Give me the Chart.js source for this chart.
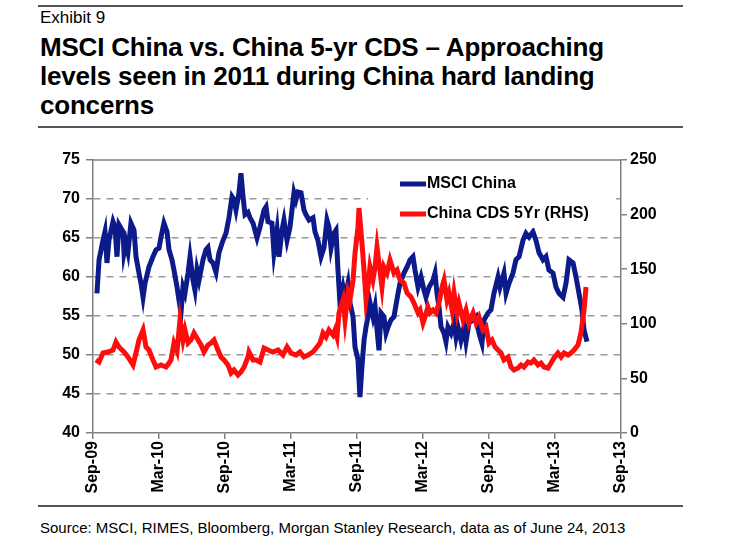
<!DOCTYPE html>
<html lang="en">
<head>
    <meta charset="UTF-8">
    <title>MSCI China vs. China 5-yr CDS</title>
    <style>
        body { margin: 0; background: #fff; }
        #page { position: relative; width: 746px; height: 552px; overflow: hidden; font-family: "Liberation Sans", Arial, sans-serif; color: #000; }
        .rule { position: absolute; left: 38px; width: 645px; height: 2px; background: #555; }
        #exhibit { position: absolute; left: 40px; top: 8px; font-size: 17px; line-height: 20px; }
        #title { position: absolute; left: 40px; top: 33px; font-size: 26px; line-height: 29px; font-weight: bold; letter-spacing: -0.2px; }
        #chartBox { position: absolute; left: 0; top: 130px; width: 746px; height: 370px; }
        #source { position: absolute; left: 40px; top: 519px; font-size: 15px; line-height: 18px; }
    </style>
</head>
<body>
<div id="page">
    <div class="rule" style="top:5px"></div>
    <div id="exhibit">Exhibit 9</div>
    <div id="title">MSCI China vs. China 5-yr CDS – Approaching<br>levels seen in 2011 during China hard landing<br>concerns</div>
    <div class="rule" style="top:126px"></div>
    <div id="chartBox"><canvas id="chart" width="746" height="370"></canvas></div>
    <div class="rule" style="top:505px"></div>
    <div id="source">Source: MSCI, RIMES, Bloomberg, Morgan Stanley Research, data as of June 24, 2013</div>
</div>

<script src="https://cdn.jsdelivr.net/npm/chart.js"></script>
<script>
    // x = months since Sep-09, y = index level / CDS spread (bp)
    const xTickLabels = ['Sep-09', 'Mar-10', 'Sep-10', 'Mar-11', 'Sep-11', 'Mar-12', 'Sep-12', 'Mar-13', 'Sep-13'];
    const seriesNames = ['MSCI China', 'China CDS 5Yr (RHS)'];

    const msciChina = [
        [0.36,57.9],[0.55,62.2],[0.91,64.7],[1.09,65.8],[1.27,61.8],[1.45,64.7],[1.82,67.1],[2.00,66.4],
        [2.18,62.6],[2.36,66.7],[2.73,65.8],[2.82,63.1],[3.00,64.4],[3.18,63.2],[3.45,66.9],[3.73,66.0],
        [3.91,62.6],[4.18,60.5],[4.36,59.2],[4.55,57.4],[4.73,59.2],[5.09,61.3],[5.45,62.6],[5.73,63.5],
        [6.00,63.7],[6.18,65.1],[6.45,66.9],[6.73,65.8],[6.91,63.5],[7.18,62.2],[7.36,60.9],[7.64,58.7],
        [7.82,57.0],[8.00,55.4],[8.18,58.7],[8.36,57.9],[8.64,60.5],[8.82,62.6],[9.09,59.6],[9.27,58.3],
        [9.45,60.9],[9.64,59.6],[10.00,62.2],[10.27,63.5],[10.45,63.8],[10.64,62.2],[10.91,61.8],[11.18,60.6],
        [11.45,63.1],[11.82,64.7],[12.09,65.6],[12.36,67.6],[12.64,70.3],[12.82,69.9],[13.00,68.6],[13.27,70.8],
        [13.45,73.3],[13.64,70.3],[13.82,68.0],[14.09,68.3],[14.27,67.6],[14.55,66.9],[14.91,65.0],[15.18,66.4],
        [15.55,68.6],[15.73,69.0],[15.91,67.1],[16.27,66.9],[16.45,63.1],[16.73,66.0],[16.91,62.6],[17.18,66.0],
        [17.36,67.3],[17.64,64.7],[17.91,66.4],[18.27,70.8],[18.45,69.9],[18.64,70.9],[18.91,70.8],[19.18,68.6],
        [19.36,68.0],[19.64,67.3],[20.00,67.6],[20.18,65.8],[20.45,64.7],[20.73,62.6],[21.00,63.8],[21.27,67.3],
        [21.45,66.4],[21.64,63.7],[21.91,65.6],[22.09,66.0],[22.27,60.9],[22.45,56.7],[22.73,58.7],[22.91,57.4],
        [23.18,59.2],[23.36,56.7],[23.64,54.9],[23.82,51.0],[24.09,49.4],[24.27,44.6],[24.45,48.5],[24.64,51.9],
        [24.82,53.6],[25.00,54.9],[25.18,56.7],[25.45,54.9],[25.64,56.2],[25.91,51.9],[26.00,50.6],[26.18,55.4],
        [26.45,54.9],[26.64,52.8],[26.82,53.6],[27.09,54.5],[27.36,54.9],[27.73,57.9],[27.91,59.2],[28.27,60.5],
        [28.55,61.3],[28.82,62.2],[29.09,62.6],[29.27,60.9],[29.55,58.7],[29.82,60.0],[30.09,58.3],[30.27,57.4],
        [30.55,58.7],[30.91,59.6],[31.09,60.5],[31.27,57.9],[31.45,56.2],[31.64,53.6],[31.91,52.8],[32.09,51.7],
        [32.27,53.6],[32.55,52.8],[32.82,54.1],[33.00,52.3],[33.18,53.6],[33.45,51.9],[33.73,53.6],[33.91,51.7],
        [34.18,54.1],[34.55,54.5],[34.82,54.9],[35.09,52.8],[35.36,51.5],[35.55,54.5],[35.91,55.4],[36.18,55.8],
        [36.45,57.9],[36.82,60.0],[37.00,58.7],[37.36,60.5],[37.55,57.9],[37.82,59.2],[38.18,60.5],[38.45,62.2],
        [38.73,62.6],[39.09,64.7],[39.36,65.6],[39.64,65.1],[40.00,65.8],[40.27,64.7],[40.55,63.1],[40.91,62.2],
        [41.18,62.6],[41.45,60.9],[41.82,60.5],[42.09,58.7],[42.36,57.9],[42.73,57.4],[43.00,59.2],[43.27,62.2],
        [43.64,61.8],[43.91,60.0],[44.18,57.9],[44.45,55.8],[44.64,53.2],[44.91,51.7]
    ];

    const chinaCds = [
        [0.27,66.9],[0.55,65.0],[0.91,73.3],[1.36,74.2],[1.82,76.0],[2.09,83.3],[2.36,78.8],[2.82,74.2],
        [3.18,69.6],[3.64,62.3],[3.91,73.3],[4.18,85.2],[4.55,94.3],[4.82,78.8],[5.09,76.0],[5.45,66.9],
        [5.73,60.4],[6.18,62.3],[6.64,60.4],[6.91,64.1],[7.09,66.9],[7.36,82.4],[7.64,75.0],[7.91,103.5],
        [8.18,85.2],[8.36,94.3],[8.64,82.4],[8.91,85.2],[9.18,91.6],[9.55,85.2],[9.82,80.6],[10.09,74.2],
        [10.45,80.6],[10.73,82.4],[11.00,85.2],[11.36,76.0],[11.64,69.6],[11.91,66.9],[12.27,62.3],[12.55,54.9],
        [12.82,57.7],[13.18,53.1],[13.45,55.9],[13.73,60.4],[14.09,69.6],[14.18,74.2],[14.55,66.9],[14.82,66.9],
        [15.18,65.0],[15.55,77.8],[15.91,76.0],[16.36,74.2],[16.82,76.0],[17.27,71.4],[17.64,78.8],[18.00,73.3],
        [18.45,71.4],[18.82,74.2],[19.18,69.6],[19.55,71.4],[20.00,74.2],[20.36,78.8],[20.64,82.4],[20.91,91.6],
        [21.18,87.9],[21.45,94.3],[21.82,89.7],[22.00,94.3],[22.18,87.9],[22.36,109.9],[22.73,121.8],[22.91,103.5],
        [23.18,128.2],[23.36,121.8],[23.64,140.1],[23.82,164.8],[24.09,188.7],[24.18,206.0],[24.45,174.0],[24.64,149.3],
        [24.82,121.8],[25.00,133.7],[25.18,152.0],[25.45,140.1],[25.64,152.0],[25.82,170.3],[26.00,155.7],[26.27,133.7],
        [26.45,152.0],[26.73,146.5],[27.00,158.4],[27.36,146.5],[27.64,149.3],[27.91,140.1],[28.27,137.4],[28.55,128.2],
        [28.91,124.5],[29.18,119.0],[29.55,109.9],[29.73,112.6],[30.00,100.7],[30.18,106.2],[30.45,115.4],[30.64,109.9],
        [30.91,112.6],[31.18,109.9],[31.45,119.0],[31.73,133.7],[31.91,140.1],[32.18,121.8],[32.36,128.2],[32.64,112.6],
        [32.82,128.2],[33.09,109.9],[33.27,119.0],[33.64,103.5],[33.91,112.6],[34.18,100.7],[34.55,109.9],[34.82,100.7],
        [35.09,106.2],[35.45,94.3],[35.73,97.1],[36.00,82.4],[36.27,85.2],[36.55,78.8],[36.82,76.0],[37.09,73.3],
        [37.36,66.9],[37.73,69.6],[38.00,60.4],[38.27,57.7],[38.64,59.5],[38.91,62.3],[39.18,60.4],[39.55,65.0],
        [39.82,64.1],[40.09,66.9],[40.45,62.3],[40.73,64.1],[41.00,60.4],[41.36,59.5],[41.64,64.1],[41.91,68.7],
        [42.27,73.3],[42.55,69.6],[42.82,73.3],[43.18,71.4],[43.45,73.3],[43.73,76.0],[44.09,80.6],[44.36,91.6],
        [44.64,112.6],[44.82,133.7]
    ];

    const tickFont = { family: '"Liberation Sans", Arial, sans-serif', size: 16, weight: 'bold' };
    const axisGray = '#808080';

    // draws the top border of the plot and the legend inside the plot
    const framePlugin = {
        id: 'frame',
        afterDraw(chart) {
            const ctx = chart.ctx;
            const a = chart.chartArea;
            ctx.save();
            ctx.strokeStyle = axisGray;
            ctx.lineWidth = 1.5;
            ctx.beginPath();
            ctx.moveTo(a.left, a.top);
            ctx.lineTo(a.right, a.top);
            ctx.stroke();

            // legend box
            const bx = a.left + 275;
            ctx.fillStyle = '#fff';
            ctx.fillRect(bx, a.top + 5, a.right - bx - 5, 63);
            ctx.font = 'bold 16px "Liberation Sans", Arial, sans-serif';
            ctx.textBaseline = 'middle';
            chart.data.datasets.forEach((ds, i) => {
                const y = a.top + 24 + i * 30;
                ctx.strokeStyle = ds.borderColor;
                ctx.lineWidth = 5;
                ctx.beginPath();
                ctx.moveTo(a.left + 307, y);
                ctx.lineTo(a.left + 333, y);
                ctx.stroke();
                ctx.fillStyle = '#000';
                ctx.fillText(ds.label, a.left + 334, y);
            });
            ctx.restore();
        }
    };

    new Chart(document.getElementById('chart'), {
        type: 'line',
        data: {
            datasets: [
                {
                    label: seriesNames[0],
                    data: msciChina.map(p => ({ x: p[0], y: p[1] })),
                    yAxisID: 'y',
                    borderColor: '#0c1a8a',
                    borderWidth: 5,
                    pointRadius: 0,
                    order: 1
                },
                {
                    label: seriesNames[1],
                    data: chinaCds.map(p => ({ x: p[0], y: p[1] })),
                    yAxisID: 'y1',
                    borderColor: '#ff0d0d',
                    borderWidth: 5,
                    pointRadius: 0,
                    order: 0
                }
            ]
        },
        options: {
            responsive: false,
            animation: false,
            devicePixelRatio: 1,
            layout: { padding: { top: 30, right: 85, left: 0, bottom: 0 } },
            plugins: {
                legend: { display: false },
                tooltip: { enabled: false }
            },
            scales: {
                x: {
                    type: 'linear',
                    min: 0,
                    max: 48,
                    afterFit: s => { s.height = 67; },
                    grid: { drawOnChartArea: false, tickLength: 6, tickColor: axisGray, lineWidth: 1.5 },
                    border: { color: axisGray, width: 1.5 },
                    ticks: {
                        stepSize: 6,
                        autoSkip: false,
                        minRotation: 90,
                        maxRotation: 90,
                        padding: 2,
                        color: '#000',
                        font: tickFont,
                        callback: (v, i) => xTickLabels[i]
                    }
                },
                y: {
                    position: 'left',
                    min: 40,
                    max: 75,
                    afterFit: s => { s.width = 93; },
                    grid: {
                        color: c => (c.tick && (c.tick.value === 40 || c.tick.value === 75)) ? 'rgba(0,0,0,0)' : '#9a9a9a',
                        lineWidth: 1.5,
                        tickLength: 7,
                        tickColor: axisGray
                    },
                    border: { color: axisGray, width: 1.5, dash: [7, 6] },
                    ticks: { stepSize: 5, padding: 6, color: '#000', font: tickFont }
                },
                y1: {
                    position: 'right',
                    min: 0,
                    max: 250,
                    afterFit: s => { s.width = 40; },
                    grid: { drawOnChartArea: false, tickLength: 6, tickColor: axisGray, lineWidth: 1.5 },
                    border: { color: axisGray, width: 1.5 },
                    ticks: { stepSize: 50, padding: 3, color: '#000', font: tickFont }
                }
            }
        },
        plugins: [framePlugin]
    });
</script>
</body>
</html>
